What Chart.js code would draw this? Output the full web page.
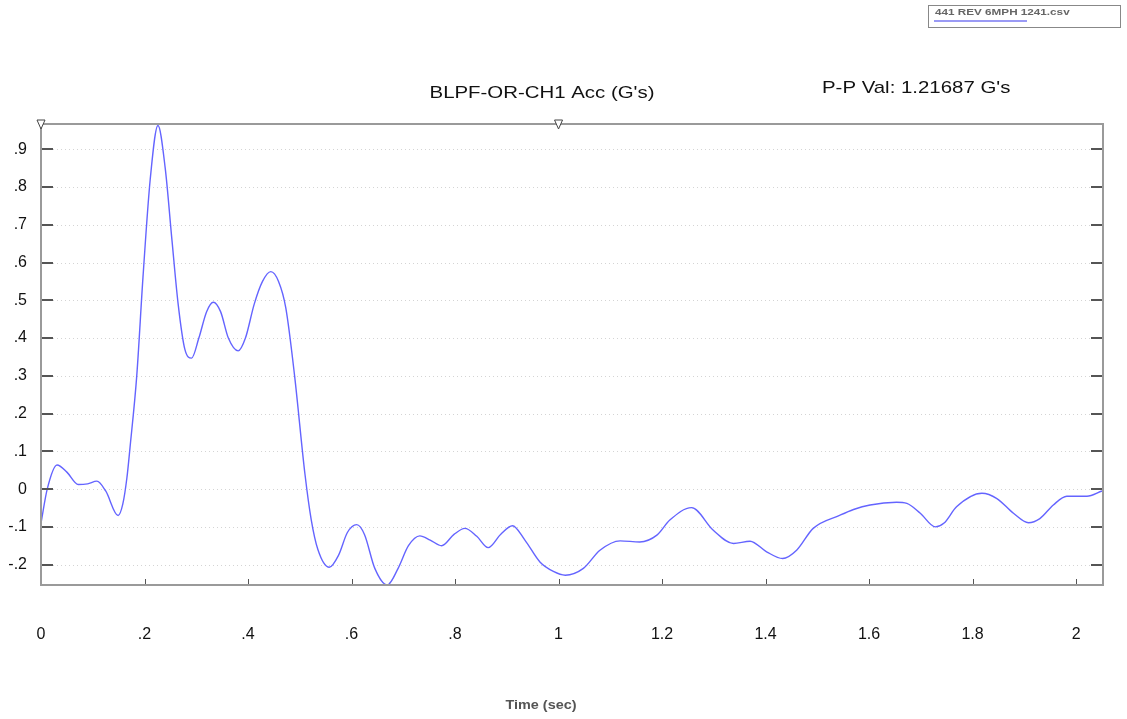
<!DOCTYPE html>
<html><head><meta charset="utf-8">
<script src="https://cdn.jsdelivr.net/npm/chart.js@4"></script>
<style>body{margin:0;background:#fff}canvas{display:block}</style></head>
<body><canvas id="c" width="1127" height="719"></canvas>
<script>
const timeSec = [0.000,0.012,0.031,0.050,0.072,0.090,0.108,0.125,0.149,0.158,0.166,0.172,0.185,0.197,0.211,0.226,0.240,0.253,0.265,0.278,0.291,0.305,0.320,0.333,0.347,0.362,0.381,0.395,0.412,0.428,0.444,0.459,0.473,0.490,0.510,0.522,0.535,0.557,0.575,0.592,0.610,0.625,0.645,0.669,0.690,0.710,0.732,0.752,0.774,0.798,0.819,0.842,0.864,0.888,0.911,0.935,0.964,0.990,1.013,1.048,1.080,1.119,1.157,1.190,1.215,1.257,1.299,1.338,1.370,1.402,1.433,1.460,1.492,1.544,1.570,1.602,1.653,1.673,1.699,1.728,1.745,1.769,1.818,1.847,1.879,1.908,1.930,1.956,1.982,2.021,2.050];
const accG = [-0.090,0.000,0.064,0.045,0.012,0.014,0.021,-0.005,-0.070,-0.040,0.030,0.110,0.300,0.560,0.820,0.963,0.850,0.660,0.490,0.370,0.347,0.400,0.470,0.495,0.470,0.400,0.366,0.400,0.490,0.550,0.576,0.550,0.480,0.300,0.040,-0.080,-0.160,-0.207,-0.175,-0.115,-0.094,-0.120,-0.210,-0.254,-0.210,-0.150,-0.124,-0.135,-0.150,-0.120,-0.104,-0.125,-0.155,-0.120,-0.097,-0.135,-0.193,-0.218,-0.228,-0.210,-0.162,-0.137,-0.140,-0.122,-0.082,-0.049,-0.109,-0.144,-0.138,-0.166,-0.184,-0.162,-0.104,-0.069,-0.054,-0.042,-0.035,-0.038,-0.064,-0.100,-0.090,-0.047,-0.011,-0.025,-0.064,-0.089,-0.078,-0.042,-0.019,-0.019,-0.005];
const xTickValues = [0,0.2,0.4,0.6,0.8,1,1.2,1.4,1.6,1.8,2];
const xTickLabels = ['0','.2','.4','.6','.8','1','1.2','1.4','1.6','1.8','2'];
const yTickValues = [-0.2,-0.1,0,0.1,0.2,0.3,0.4,0.5,0.6,0.7,0.8,0.9];
const yTickLabels = ['-.2','-.1','0','.1','.2','.3','.4','.5','.6','.7','.8','.9'];
const markerTimes = [0,1];
const seriesName = '441 REV 6MPH 1241.csv';
const chartTitle = "BLPF-OR-CH1 Acc (G's)";
const ppText = "P-P Val: 1.21687 G's";
const xTitle = 'Time (sec)';

const FONT = '"Liberation Sans", Arial, sans-serif';
const points = timeSec.map((t,i)=>({x:t,y:accG[i]}));

function stretchedText(ctx, text, x, y, sx, align){
  ctx.save();
  ctx.translate(x, y); ctx.scale(sx, 1);
  ctx.textAlign = align; ctx.fillText(text, 0, 0);
  ctx.restore();
}

const decor = {
  id:'decor',
  beforeDatasetsDraw(chart){
    const {ctx, chartArea:a, scales:{x,y}} = chart;
    ctx.save();
    ctx.strokeStyle = '#d4d4d4'; ctx.lineWidth = 1; ctx.setLineDash([1,3]);
    yTickValues.forEach(v=>{
      const py = Math.round(y.getPixelForValue(v))+0.5;
      ctx.beginPath(); ctx.moveTo(a.left+12,py); ctx.lineTo(a.right-12,py); ctx.stroke();
    });
    ctx.restore();
  },
  afterDatasetsDraw(chart){
    const {ctx, chartArea:a, scales:{x,y}} = chart;
    ctx.save();
    ctx.strokeStyle = '#555'; ctx.lineWidth = 2;
    yTickValues.forEach(v=>{
      const py = Math.round(y.getPixelForValue(v));
      ctx.beginPath(); ctx.moveTo(a.left,py); ctx.lineTo(a.left+12,py); ctx.stroke();
      ctx.beginPath(); ctx.moveTo(a.right-12,py); ctx.lineTo(a.right,py); ctx.stroke();
    });
    ctx.lineWidth = 1;
    xTickValues.forEach(v=>{
      const px = Math.round(x.getPixelForValue(v))+0.5;
      ctx.beginPath(); ctx.moveTo(px,a.bottom); ctx.lineTo(px,a.bottom-6); ctx.stroke();
    });
    ctx.strokeStyle = '#9a9a9a'; ctx.lineWidth = 2;
    ctx.strokeRect(a.left, a.top, a.right-a.left, a.bottom-a.top);
    ctx.strokeStyle = '#444'; ctx.fillStyle = '#fff'; ctx.lineWidth = 1;
    markerTimes.forEach(t=>{
      const px = x.getPixelForValue(t);
      ctx.beginPath(); ctx.moveTo(px-4,a.top-4); ctx.lineTo(px+4,a.top-4); ctx.lineTo(px,a.top+5); ctx.closePath();
      ctx.fill(); ctx.stroke();
    });
    ctx.fillStyle = '#111'; ctx.textBaseline = 'middle';
    ctx.font = '17px ' + FONT;
    stretchedText(ctx, chartTitle, 542, 93, 1.2, 'center');
    stretchedText(ctx, ppText, 822, 88, 1.2, 'left');
    ctx.fillStyle = '#555'; ctx.font = 'bold 12px ' + FONT;
    stretchedText(ctx, xTitle, 541, 706, 1.2, 'center');
    ctx.strokeStyle = '#888'; ctx.lineWidth = 1;
    ctx.strokeRect(928.5, 5.5, 192, 22);
    ctx.fillStyle = '#666'; ctx.font = 'bold 9px ' + FONT;
    stretchedText(ctx, seriesName, 935, 13, 1.3, 'left');
    ctx.strokeStyle = '#9a9af5'; ctx.lineWidth = 2;
    ctx.beginPath(); ctx.moveTo(934,21); ctx.lineTo(1027,21); ctx.stroke();
    ctx.restore();
  }
};

new Chart(document.getElementById('c'), {
  type:'line',
  data:{datasets:[{label:seriesName,data:points,borderColor:'#6464ff',borderWidth:1.4,pointRadius:0,cubicInterpolationMode:'monotone',fill:false}]},
  options:{
    responsive:false, animation:false,
    layout:{padding:{top:124,right:24,left:0,bottom:0}},
    plugins:{legend:{display:false},title:{display:false},tooltip:{enabled:false}},
    scales:{
      x:{type:'linear',min:0,max:2.052,offset:false,
        afterBuildTicks(s){s.ticks = xTickValues.map(v=>({value:v}));},
        afterFit(s){s.height = 134; s.paddingLeft = 0; s.paddingRight = 0;},
        grid:{display:false}, border:{display:false},
        ticks:{padding:32,maxRotation:0,autoSkip:false,color:'#111',font:{family:FONT,size:16},
          callback(v){const i=xTickValues.findIndex(t=>Math.abs(t-v)<1e-9);return i>=0?xTickLabels[i]:'';}}
      },
      y:{type:'linear',min:-0.254,max:0.967,
        afterBuildTicks(s){s.ticks = yTickValues.map(v=>({value:v}));},
        afterFit(s){s.width = 41;},
        grid:{display:false}, border:{display:false},
        ticks:{padding:6,autoSkip:false,color:'#111',font:{family:FONT,size:16},
          callback(v){const i=yTickValues.findIndex(t=>Math.abs(t-v)<1e-9);return i>=0?yTickLabels[i]:'';}}
      }
    }
  },
  plugins:[decor]
});
</script></body></html>
